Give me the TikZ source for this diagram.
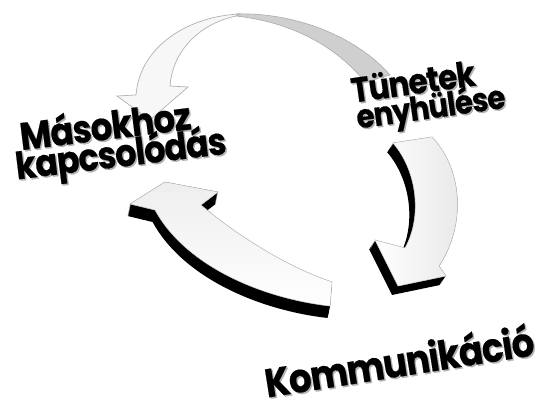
\documentclass[tikz,border=0pt]{standalone}
\usepackage{fontspec}
\usepackage{graphicx}
\newfontfamily\pop[LetterSpace=-3, BoldFeatures={FakeBold=0.4}]{Poppins}
\tikzset{
  lbl/.style={font=\pop\bfseries, inner sep=0pt, anchor=center},
  thinface/.style={fill=gray!6, draw=gray!60, line width=0.7pt},
  ribbon/.style={fill=gray!38, draw=gray!65, line width=0.6pt},
  face/.style={fill=white, draw=gray!60, line width=0.6pt},
  extr/.style={fill=black}
}
\newcommand\mylbl[6]{%
  \node[lbl,rotate=#4,text=black!30] (#1s) at (#2+1.5,#3+1.5) {\resizebox{#5pt}{!}{\scalebox{1}[1.12]{#6}}};
  \node[lbl,rotate=#4] (#1) at (#2,#3) {\resizebox{#5pt}{!}{\scalebox{1}[1.12]{#6}}};}
\def\toparrowpath{(240,14) .. controls (190,16) and (140,45) .. (136,95) -- (117,96) -- (150,120) -- (188,87) -- (170,86) .. controls (172,55) and (195,25) .. (236,16) -- cycle}
\def\ribbonpath{(236,14) .. controls (300,12) and (360,40) .. (390,75) -- (365,82) .. controls (335,45) and (290,22) .. (236,16) -- cycle}
\def\rightarrowpath{(393,143) .. controls (418,172) and (422,218) .. (405,248) -- (375,240) -- (398,286) -- (446,276) -- (439,266) .. controls (466,225) and (463,170) .. (432,137) -- cycle}
\def\leftarrowpath{(330,306) .. controls (260,298) and (185,265) .. (155,210) -- (130,204) -- (165,182) -- (218,192) -- (201,205) .. controls (240,238) and (290,268) .. (332,282) -- cycle}
\begin{document}
\begin{tikzpicture}[x=1pt,y=-1pt]
\useasboundingbox (0,0) rectangle (541,403);
\fill[white] (0,0) rectangle (541,403);
% top thin arrow
\path[ribbon] \ribbonpath;
\path[thinface] \toparrowpath;
% right arrow with extrusion
\foreach \k in {0,1,...,10} {\fill[extr, shift={(-0.6*\k,0.9*\k)}] \rightarrowpath;}
\path[face] \rightarrowpath;
\path[left color=white, right color=gray!30, opacity=0.6] \rightarrowpath;
% bottom-left arrow with extrusion
\foreach \k in {0,1,...,12} {\fill[extr, shift={(-0.2*\k,1.0*\k)}] \leftarrowpath;}
\path[face] \leftarrowpath;
\path[top color=gray!25, bottom color=white, opacity=0.5] \leftarrowpath;
% labels
\mylbl{m1}{105}{124}{7}{172}{Másokhoz}
\mylbl{m2}{121}{156}{7}{212}{kapcsolódás}
\mylbl{t1}{413}{81}{8}{125}{Tünetek}
\mylbl{t2}{431}{109}{8}{150}{enyhülése}
\mylbl{k}{399}{360}{9}{272}{Kommunikáció}
\end{tikzpicture}
\end{document}
